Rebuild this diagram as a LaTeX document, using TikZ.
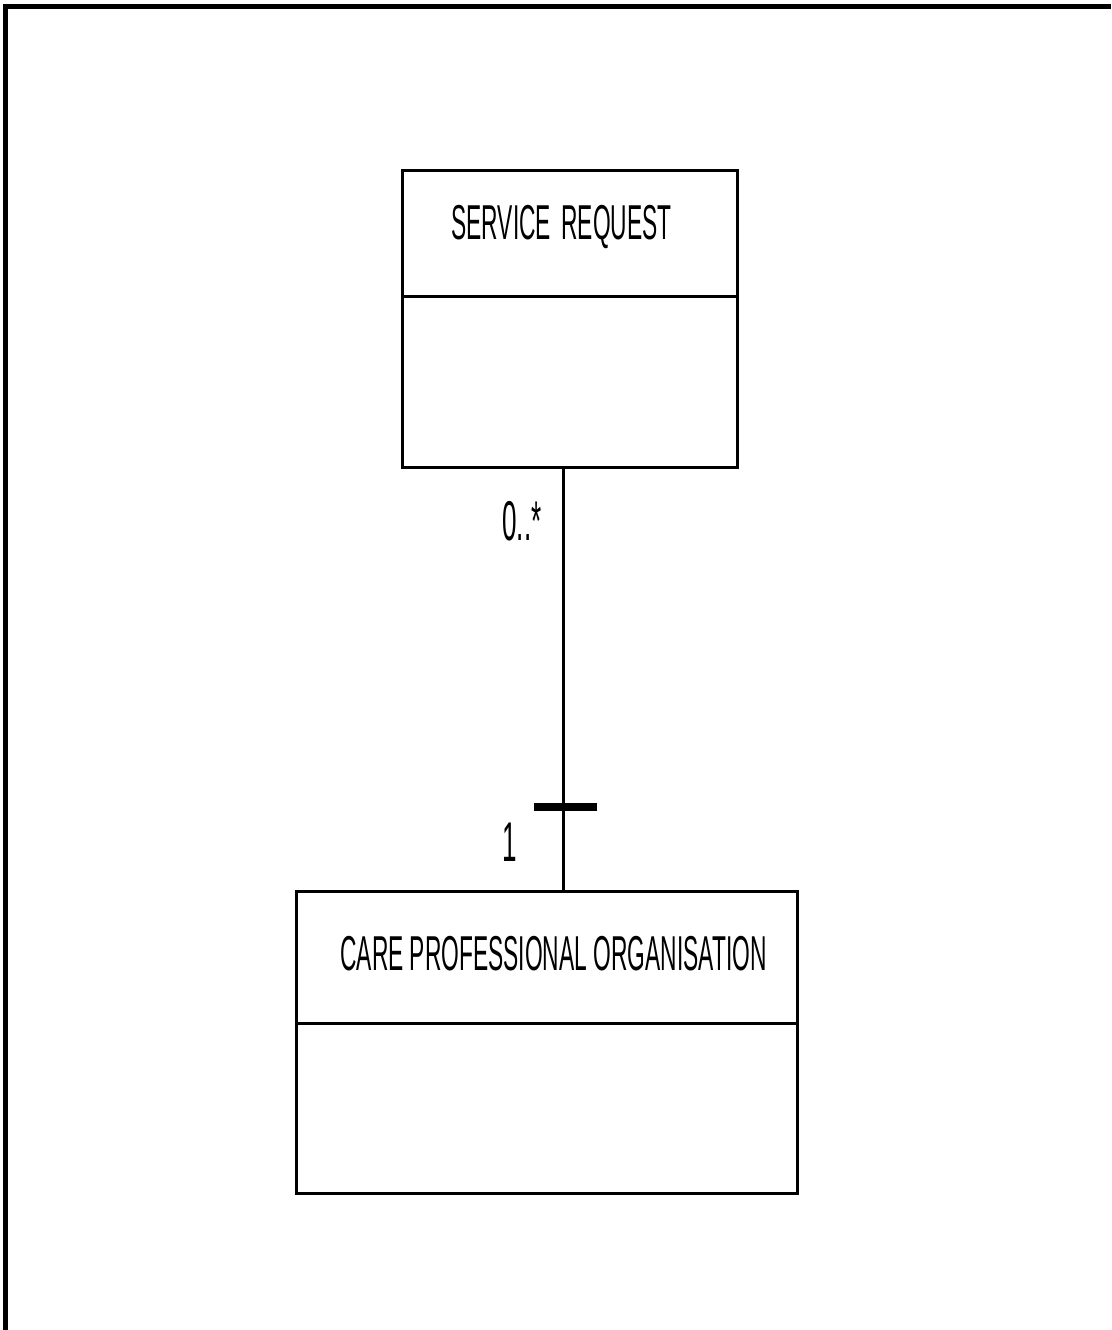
\documentclass[tikz,border=0pt]{standalone}
\usepackage{fontspec}
\newfontfamily\umlfont[FakeStretch=0.465]{Liberation Sans}
\begin{document}
\begin{tikzpicture}[x=1pt,y=-1pt,
  classbox/.style={draw,line width=3pt,inner sep=0pt},
  classname/.style={font=\umlfont\fontsize{49}{49}\selectfont,inner sep=0pt},
  mult/.style={font=\umlfont\fontsize{56}{56}\selectfont,inner sep=0pt}]
\useasboundingbox (0,0) rectangle (1111,1330);
% page frame
\draw[line width=5pt] (5,1330) -- (5,6.5) -- (1111,6.5);
% classes
\node[classbox,minimum width=335,minimum height=297] (req) at (569.5,318.5) {};
\draw[line width=3pt] (402,296) -- (737,296);
\node[classname] (reqname) at (561.5,227) {SERVICE\hspace{4pt} REQUEST};
\node[classbox,minimum width=501,minimum height=302] (org) at (546.5,1042) {};
\draw[line width=3pt] (296,1023) -- (797,1023);
\node[classname] (orgname) at (553.5,954) {CARE PROFESSIONAL ORGANISATION};
% association
\draw[line width=3pt] (req.south -| 563,0) -- (org.north -| 563,0);
\draw[line width=8pt] (534,807) -- (597,807);
\node[mult] (manyend) at (522,521) {0..*};
\node[mult] (oneend) at (510,842) {1};
\end{tikzpicture}
\end{document}
